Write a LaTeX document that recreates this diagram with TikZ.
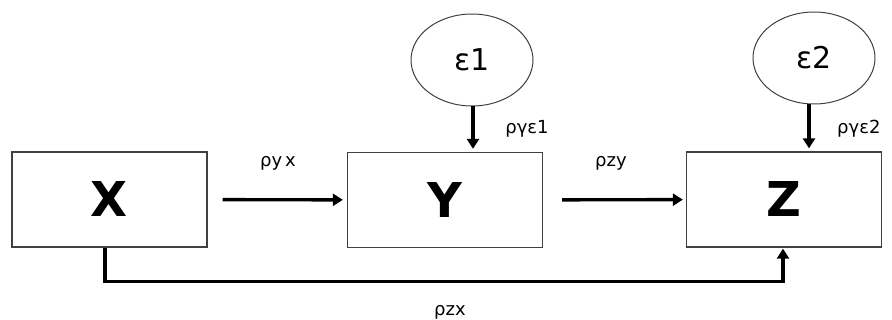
\documentclass[tikz,border=0pt]{standalone}
\usepackage{fontspec}
\setmainfont{DejaVu Sans}
\usetikzlibrary{arrows.meta,shapes.geometric,calc}
\begin{document}
\begin{tikzpicture}[x=1pt,y=1pt,
  box/.style={draw=black!75,line width=1.3pt,minimum width=195pt,minimum height=95pt,inner sep=0pt,font=\fontsize{48}{50}\selectfont\bfseries},
  err/.style={ellipse,draw=black!75,line width=1pt,minimum width=122pt,minimum height=92pt,inner sep=0pt,font=\fontsize{30}{32}\selectfont},
  arr/.style={line width=3.4pt,-{Triangle[length=10pt,width=12pt]}},
  lab/.style={font=\fontsize{18}{20}\selectfont,inner sep=0pt}]
\useasboundingbox (0,0) rectangle (892,-320);
\node[box] (X) at (109.5,-199.5) {X};
\node[box] (Y) at (445,-200) {Y};
\node[box] (Z) at (784,-199.5) {Z};
\node[err] (e1) at (472,-60) {ε1};
\node[err] (e2) at (814,-58) {ε2};
\draw[arr,shorten <=15pt,shorten >=4pt] (X) -- (Y);
\draw[arr,shorten <=19pt,shorten >=3pt] (Y) -- (Z);
\draw[arr,shorten >=3pt] ([xshift=1pt]e1.south) -- ([xshift=1pt]e1.south |- Y.north);
\draw[arr,shorten >=3pt] ([xshift=-5pt]e2.south) -- ([xshift=-5pt]e2.south |- Z.north);
\draw[arr,shorten >=1pt] ([xshift=-4.5pt]X.south) -- ++(0,-34) -| ([xshift=-1pt]Z.south);
\node[lab] (lyx) at (278,-163) {ρy\,x};
\node[lab] (lzy) at (611,-163) {ρzy};
\node[lab] (lye1) at (527,-129) {ργε1};
\node[lab,anchor=west] (lye2) at (837,-129) {ργε2};
\node[lab] (lzx) at (450,-312) {ρzx};
\end{tikzpicture}
\end{document}
